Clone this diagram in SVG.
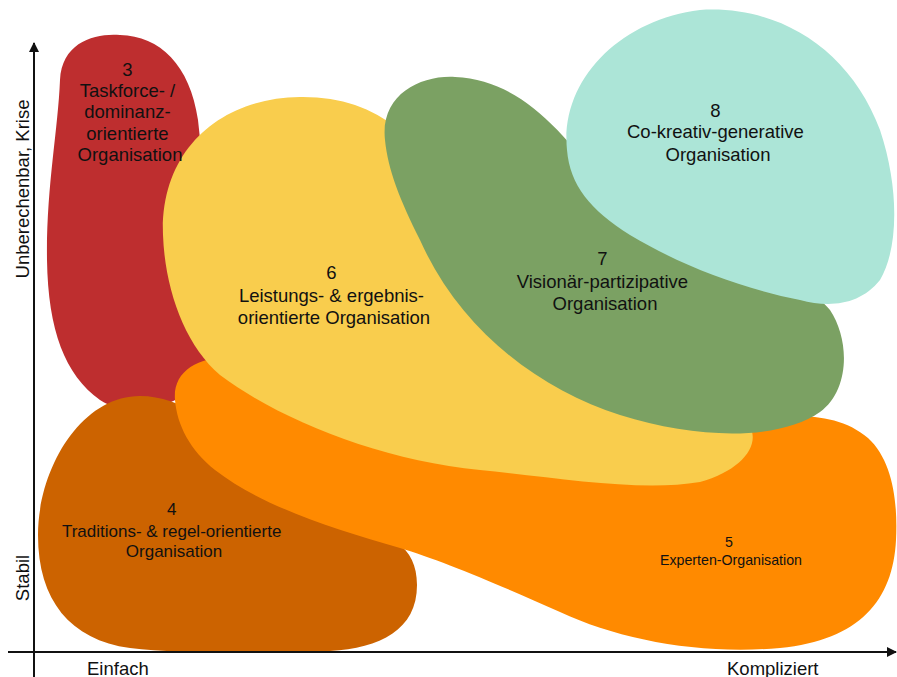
<svg xmlns="http://www.w3.org/2000/svg" width="897" height="677" viewBox="0 0 897 677">
  <style>
    .lbl { font-family: "Liberation Sans", Arial, Helvetica, sans-serif; fill: #111; text-anchor: middle; }
    .big { font-size: 18.5px; }
    .mid { font-size: 17px; }
    .sml { font-size: 14.2px; }
    .axis { stroke: #111; stroke-width: 2; fill: none; }
    .axlbl { font-family: "Liberation Sans", Arial, Helvetica, sans-serif; font-size: 18.5px; fill: #111; }
  </style>
  <defs>
    <marker id="arrow" viewBox="0 0 10 10" refX="9" refY="5" markerWidth="5" markerHeight="5" orient="auto" markerUnits="strokeWidth">
      <path d="M0,0 L10,5 L0,10 Z" fill="#111"/>
    </marker>
  </defs>

  <rect width="897" height="677" fill="#ffffff"/>

  <!-- 3: Taskforce / dominance oriented -->
  <g id="org3">
    <path fill="#BE2E2F" d="M60,80 C62,42 95,33 120,35 C160,36 190,65 198,120 C205,200 240,300 215,360 C190,410 130,420 100,400 C65,375 48,330 47,260 C46,190 58,130 60,80 Z"/>
  </g>

  <!-- 4: tradition and rule oriented -->
  <g id="org4">
    <path fill="#CC6300" d="M140,396 C210,396 260,480 340,515 C390,535 417,545 417,585 C417,630 380,648 330,651 C260,654 180,654 130,648 C70,640 38,600 38,535 C38,470 80,396 140,396 Z"/>
  </g>

  <!-- 5: expert organisation -->
  <g id="org5">
    <path fill="#FF8A00" d="M175,400 C172,365 210,350 260,360 C400,390 600,420 760,418 C800,414 840,414 868,438 C892,460 898,500 896,540 C893,600 860,640 780,648 C700,655 620,640 560,612 C500,585 440,560 400,548 C330,528 260,505 215,470 C190,450 177,425 175,400 Z"/>
  </g>

  <!-- 6: performance and results oriented -->
  <g id="org6">
    <path fill="#F9CD4D" d="M163,235 C160,150 220,98 300,97 C380,96 420,140 480,220 C560,320 700,380 745,420 C765,440 745,470 700,482 C640,492 560,478 480,470 C380,460 280,420 220,375 C185,345 165,290 163,235 Z"/>
  </g>

  <!-- 7: visionary participative -->
  <g id="org7">
    <path fill="#7BA163" d="M385,140 C380,95 420,75 455,77 C520,80 560,130 600,180 C680,260 800,270 830,310 C850,340 850,390 820,412 C780,440 700,440 620,415 C540,390 460,330 420,240 C400,200 388,170 385,140 Z"/>
  </g>

  <!-- 8: co-creative generative -->
  <g id="org8">
    <path fill="#ACE5D7" d="M567,150 C560,80 620,20 700,10 C780,5 850,50 880,130 C900,190 898,250 880,280 C860,305 830,308 800,300 C740,288 680,265 630,235 C590,210 570,185 567,150 Z"/>
  </g>

  <!-- labels -->
  <g id="labels">
    <text class="lbl big" x="130">
      <tspan x="130" y="76">3</tspan>
      <tspan x="130" y="97">Taskforce- /</tspan>
      <tspan x="130" y="118">dominanz-</tspan>
      <tspan x="130" y="140">orientierte</tspan>
      <tspan x="130" y="161">Organisation</tspan>
    </text>
    <text class="lbl mid">
      <tspan x="174" y="515">4</tspan>
      <tspan x="174" y="537">Traditions- &amp; regel-orientierte</tspan>
      <tspan x="174" y="557">Organisation</tspan>
    </text>
    <text class="lbl sml">
      <tspan x="731" y="547">5</tspan>
      <tspan x="731" y="565">Experten-Organisation</tspan>
    </text>
    <text class="lbl big">
      <tspan x="334" y="279">6</tspan>
      <tspan x="334" y="302">Leistungs- &amp; ergebnis-</tspan>
      <tspan x="334" y="324">orientierte Organisation</tspan>
    </text>
    <text class="lbl big">
      <tspan x="605" y="265">7</tspan>
      <tspan x="605" y="288">Visionär-partizipative</tspan>
      <tspan x="605" y="310">Organisation</tspan>
    </text>
    <text class="lbl big">
      <tspan x="718" y="117">8</tspan>
      <tspan x="718" y="138">Co-kreativ-generative</tspan>
      <tspan x="718" y="161">Organisation</tspan>
    </text>
  </g>

  <!-- axes -->
  <g id="connectors">
    <line class="axis" x1="34" y1="677" x2="34" y2="43" marker-end="url(#arrow)"/>
    <line class="axis" x1="8" y1="652" x2="896" y2="652" marker-end="url(#arrow)"/>
  </g>

  <g id="axis-labels">
    <text class="axlbl" text-anchor="middle" transform="translate(29,189) rotate(-90)">Unberechenbar, Krise</text>
    <text class="axlbl" text-anchor="middle" transform="translate(29,578) rotate(-90)">Stabil</text>
    <text class="axlbl" x="87" y="675">Einfach</text>
    <text class="axlbl" x="727" y="675">Kompliziert</text>
  </g>
</svg>
